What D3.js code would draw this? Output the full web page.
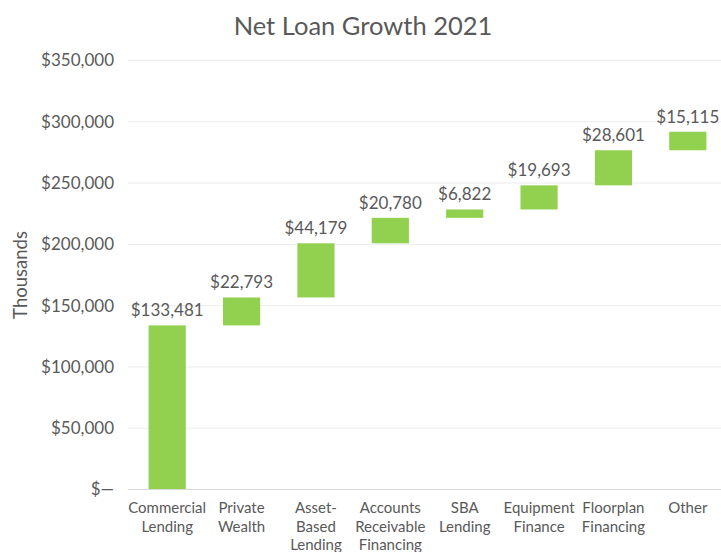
<!DOCTYPE html>
<html>
<head>
<meta charset="utf-8">
<script src="https://cdn.jsdelivr.net/npm/d3@7"></script>
<style>
  html, body { margin: 0; padding: 0; background: #fff; }
  svg text { font-family: Lato, "Open Sans", sans-serif; fill: #595959; }
</style>
</head>
<body>
<svg id="chart" width="721" height="552"></svg>
<script>
const categories = ["Commercial\nLending", "Private\nWealth", "Asset-\nBased\nLending", "Accounts\nReceivable\nFinancing", "SBA\nLending", "Equipment\nFinance", "Floorplan\nFinancing", "Other"];
const values = [133481, 22793, 44179, 20780, 6822, 19693, 28601, 15115];
const yTicks = [0, 50000, 100000, 150000, 200000, 250000, 300000, 350000];
const title = "Net Loan Growth 2021";
const yTitle = "Thousands";

const svg = d3.select("#chart");
const W = 721, H = 552;

let cum = 0;
const data = categories.map((c, i) => {
  const start = cum; cum += values[i];
  return { cat: c, value: values[i], start, end: cum };
});

const x = d3.scaleBand().domain(categories).range([130, 725]).paddingInner(0.5).paddingOuter(0.25);
const y = d3.scaleLinear().domain([0, 350000]).range([489, 60]);

const fmt = d3.format(",");
const money = v => v === 0 ? "$\u2014" : "$" + fmt(v);

// gridlines
svg.append("g").selectAll("line").data(yTicks).join("line")
  .attr("x1", 128).attr("x2", W)
  .attr("y1", d => y(d) + 0.5).attr("y2", d => y(d) + 0.5)
  .attr("stroke", d => d === 0 ? "#d9d9d9" : "#ececec").attr("stroke-width", 1);

// y axis labels
const yAxis = d3.axisLeft(y).tickValues(yTicks).tickFormat(money).tickSize(0).tickPadding(0);
const gy = svg.append("g").attr("transform", "translate(114,0)").call(yAxis);
gy.select(".domain").remove();
gy.selectAll("text").attr("font-size", 17).attr("fill", "#595959").style("font-family", "Lato, sans-serif").attr("dy", "0.35em");

// bars
svg.append("g").selectAll("rect").data(data).join("rect")
  .attr("x", d => x(d.cat))
  .attr("width", x.bandwidth())
  .attr("y", d => y(d.end))
  .attr("height", d => y(d.start) - y(d.end))
  .attr("fill", "#92d050");

// data labels
svg.append("g").selectAll("text").data(data).join("text")
  .attr("x", d => x(d.cat) + x.bandwidth() / 2)
  .attr("y", d => y(d.end) - 9)
  .attr("text-anchor", "middle")
  .attr("font-size", 17)
  .text(d => money(d.value));

// x axis category labels
const xl = svg.append("g").selectAll("text").data(data).join("text")
  .attr("x", d => x(d.cat) + x.bandwidth() / 2)
  .attr("y", 513)
  .attr("text-anchor", "middle")
  .attr("font-size", 15);
xl.each(function(d) {
  const t = d3.select(this);
  d.cat.split("\n").forEach((line, i) => {
    t.append("tspan").attr("x", x(d.cat) + x.bandwidth() / 2).attr("dy", i === 0 ? 0 : 18.7).text(line);
  });
});

// title
svg.append("text").attr("x", 363).attr("y", 35).attr("text-anchor", "middle")
  .attr("font-size", 25.5).text(title);

// y title
svg.append("text").attr("transform", "translate(27,275) rotate(-90)")
  .attr("text-anchor", "middle").attr("font-size", 18.5).text(yTitle);
</script>
</body>
</html>
